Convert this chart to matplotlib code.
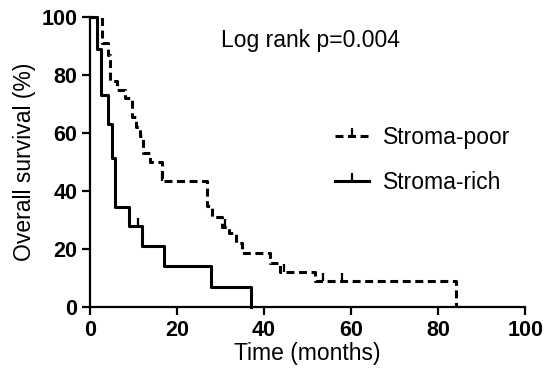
import matplotlib
matplotlib.use('Agg')
import matplotlib.pyplot as plt
from matplotlib.lines import Line2D

plt.rcParams['font.family'] = ['Liberation Sans', 'DejaVu Sans']

# Kaplan-Meier step data (time in months, survival in %)
poor_time = [0, 2.8, 4.1, 4.6, 6.2, 8.0, 9.7, 10.6, 11.5, 12.2, 13.8, 16.5,
             27.0, 28.0, 30.3, 32.0, 33.5, 35.0, 41.4, 43.7, 51.7, 84.0, 84.0]
poor_surv = [100, 91, 87, 78, 75, 72, 65.5, 62, 59, 53, 50, 43.5,
             35, 31, 27.6, 25.5, 22, 18.6, 15.2, 12, 9.1, 0, 0]
poor_cens_t = [16.5, 31.0, 44.5, 53.5, 58.0]
poor_cens_s = [43.5, 27.6, 12, 9.1, 9.1]

rich_time = [0, 1.7, 2.6, 4.1, 5.0, 5.7, 9.0, 12.0, 17.0, 27.8, 37.0, 37.0]
rich_surv = [100, 89, 73, 63, 51.5, 34.5, 28, 21, 14, 7, 0, 0]
rich_cens_t = [11.0]
rich_cens_s = [28]

x_ticks = [0, 20, 40, 60, 80, 100]
y_ticks = [0, 20, 40, 60, 80, 100]

# censor mark: short upward tick
cens = [(0, 0), (0, 1)]

fig = plt.figure(figsize=(5.44, 3.76), dpi=100)
ax = fig.add_axes([0.1654, 0.1835, 0.80, 0.771])

dash = (2.6, 1.5)
ax.step(poor_time, poor_surv, where='post', color='black', lw=2.2,
        linestyle=(0, dash), clip_on=False)
ax.plot(poor_cens_t, poor_cens_s, linestyle='none', marker=cens, color='black',
        markersize=11, markeredgewidth=1.6, clip_on=False)
ax.step(rich_time, rich_surv, where='post', color='black', lw=2.2, clip_on=False)
ax.plot(rich_cens_t, rich_cens_s, linestyle='none', marker=cens, color='black',
        markersize=11, markeredgewidth=1.6, clip_on=False)

ax.set_xlim(0, 100)
ax.set_ylim(0, 100)
ax.set_xticks(x_ticks)
ax.set_yticks(y_ticks)
ax.tick_params(direction='out', length=6, width=1.6, labelsize=15.5, pad=3)
for lab in ax.get_xticklabels() + ax.get_yticklabels():
    lab.set_fontweight('bold')

for s in ['top', 'right']:
    ax.spines[s].set_visible(False)
for s in ['left', 'bottom']:
    ax.spines[s].set_linewidth(1.6)

ax.set_xlabel('Time (months)', fontsize=16.5, labelpad=1)
ax.set_ylabel('Overall survival (%)', fontsize=16.5, labelpad=4)

ax.text(0.30, 0.92, 'Log rank p=0.004', transform=ax.transAxes,
        fontsize=16.5, ha='left', va='center')

handles = [
    Line2D([0], [0], color='black', lw=2.2, linestyle=(0, dash),
           marker=cens, markersize=11, markeredgewidth=1.6),
    Line2D([0], [0], color='black', lw=2.2,
           marker=cens, markersize=11, markeredgewidth=1.6),
]
ax.legend(handles, ['Stroma-poor', 'Stroma-rich'], loc='center left',
          bbox_to_anchor=(0.563, 0.507), frameon=False, fontsize=16.5,
          handlelength=1.5, handletextpad=0.6, labelspacing=0.95,
          borderpad=0, borderaxespad=0, numpoints=1)

plt.savefig('out.png', dpi=100)
